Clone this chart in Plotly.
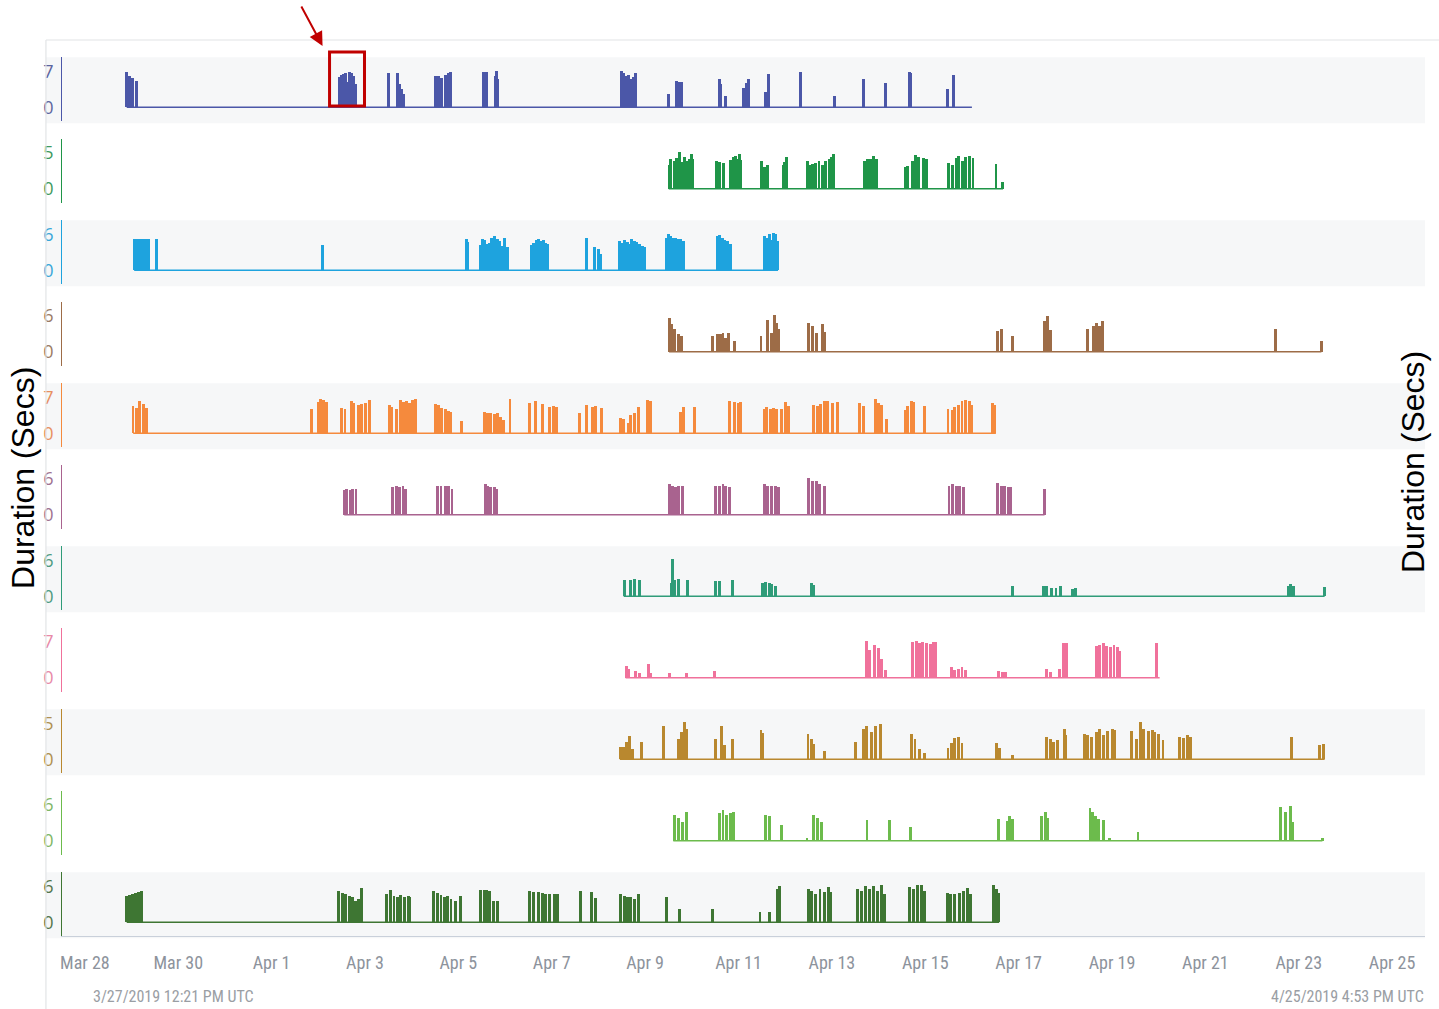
import plotly.graph_objects as go
from plotly.subplots import make_subplots
import pandas as pd

# ---------------- DATA ----------------
X_START = "2019-03-27 12:21"
X_END = "2019-04-25 16:53"
START_LABEL = "3/27/2019 12:21 PM UTC"
END_LABEL = "4/25/2019 4:53 PM UTC"
Y_TITLE = "Duration (Secs)"

tick_dates = ["2019-03-28", "2019-03-30", "2019-04-01", "2019-04-03", "2019-04-05",
              "2019-04-07", "2019-04-09", "2019-04-11", "2019-04-13", "2019-04-15",
              "2019-04-17", "2019-04-19", "2019-04-21", "2019-04-23", "2019-04-25"]
tick_labels = ["Mar 28", "Mar 30", "Apr 1", "Apr 3", "Apr 5", "Apr 7", "Apr 9", "Apr 11",
               "Apr 13", "Apr 15", "Apr 17", "Apr 19", "Apr 21", "Apr 23", "Apr 25"]

y_max_ticks = [7, 5, 6, 6, 7, 6, 6, 7, 5, 6, 6]

s1_span = ("03-28 21:30", "04-16 00:00")
s1 = [("03-28 21:30", 6.9), ("03-28 23:00", 6.1), ("03-29 00:40", 5.6), ("03-29 02:40", 5.0),
      ("04-02 10:50", 5.8), ("04-02 12:00", 6.2), ("04-02 13:00", 6.4), ("04-02 14:00", 6.7),
      ("04-02 15:00", 4.8), ("04-02 16:00", 6.9), ("04-02 17:00", 6.7), ("04-02 18:00", 6.0),
      ("04-02 19:00", 4.5),
      ("04-03 12:20", 6.6), ("04-03 17:00", 6.6), ("04-03 18:00", 4.5), ("04-03 18:40", 3.5),
      ("04-03 19:50", 2.5),
      ("04-04 12:10", 6.1), ("04-04 13:40", 6.1), ("04-04 15:20", 5.6), ("04-04 17:20", 6.2),
      ("04-04 18:50", 6.7), ("04-04 19:50", 6.9),
      ("04-05 12:50", 6.8), ("04-05 13:50", 6.8), ("04-05 14:50", 6.8), ("04-05 19:00", 6.0),
      ("04-05 19:40", 7.0), ("04-05 20:30", 5.5),
      ("04-08 12:00", 7.0), ("04-08 13:10", 6.6), ("04-08 14:20", 6.1), ("04-08 15:40", 6.2),
      ("04-08 17:10", 5.4), ("04-08 18:10", 5.9), ("04-08 19:20", 6.6),
      ("04-09 12:10", 2.6), ("04-09 16:20", 5.0), ("04-09 17:20", 4.9), ("04-09 18:50", 4.9),
      ("04-10 14:30", 5.4), ("04-10 15:00", 4.5), ("04-10 17:40", 2.1),
      ("04-11 02:30", 3.7), ("04-11 03:50", 2.5), ("04-11 04:20", 4.7), ("04-11 05:10", 5.4),
      ("04-11 14:10", 3.0), ("04-11 15:30", 6.4),
      ("04-12 08:10", 6.9), ("04-13 01:40", 2.2), ("04-13 16:10", 5.5), ("04-14 03:50", 4.7),
      ("04-14 16:00", 6.9), ("04-14 16:40", 6.6), ("04-15 11:40", 3.5), ("04-15 14:30", 6.3)]

s2_span = ("04-09 12:10", "04-16 16:00")
s2 = [("04-09 12:30", 3.4), ("04-09 13:20", 4.1), ("04-09 15:00", 3.9), ("04-09 16:20", 4.3),
      ("04-09 17:40", 5.1), ("04-09 18:50", 3.8), ("04-09 20:10", 4.5), ("04-09 21:40", 3.9),
      ("04-09 22:40", 4.2), ("04-10 00:00", 4.8), ("04-10 00:40", 4.1),
      ("04-10 12:50", 3.9), ("04-10 14:10", 3.8), ("04-10 16:20", 3.6), ("04-10 19:50", 4.0),
      ("04-10 21:20", 4.4), ("04-10 22:40", 4.6), ("04-10 23:50", 4.1), ("04-11 00:50", 4.8),
      ("04-11 01:20", 4.0),
      ("04-11 11:50", 3.9), ("04-11 13:20", 3.0), ("04-11 15:00", 3.4),
      ("04-11 23:20", 3.3), ("04-12 00:00", 3.7), ("04-12 00:50", 4.5),
      ("04-12 11:30", 3.9), ("04-12 12:40", 3.3), ("04-12 14:10", 3.5), ("04-12 15:50", 3.6),
      ("04-12 17:30", 3.9), ("04-12 19:10", 3.3), ("04-12 20:50", 3.9), ("04-12 22:40", 4.1),
      ("04-12 23:50", 4.4), ("04-13 00:50", 4.8),
      ("04-13 16:50", 3.9), ("04-13 18:20", 4.1), ("04-13 20:00", 4.2), ("04-13 21:20", 4.6),
      ("04-13 23:10", 4.1),
      ("04-14 13:50", 3.0), ("04-14 15:10", 3.2), ("04-14 17:20", 3.9), ("04-14 19:10", 4.7),
      ("04-14 20:50", 4.4), ("04-14 23:10", 4.3), ("04-15 00:50", 4.2),
      ("04-15 12:10", 3.6), ("04-15 14:00", 3.4), ("04-15 16:10", 4.3), ("04-15 17:20", 4.6),
      ("04-15 19:10", 3.9), ("04-15 20:50", 4.4), ("04-15 22:40", 4.6), ("04-16 00:40", 4.3),
      ("04-16 12:30", 3.5), ("04-16 16:00", 1.0)]

s3_span = ("03-29 01:20", "04-11 20:20")
s3 = [("03-29 01:30", 5.1), ("03-29 02:20", 5.0), ("03-29 03:10", 5.2), ("03-29 04:10", 5.2),
      ("03-29 04:50", 5.0), ("03-29 05:50", 5.2), ("03-29 06:40", 5.1), ("03-29 07:50", 5.2),
      ("03-29 08:40", 5.2), ("03-29 12:50", 5.2),
      ("04-02 02:30", 4.1),
      ("04-05 04:10", 5.1), ("04-05 05:00", 4.6),
      ("04-05 11:20", 4.1), ("04-05 12:40", 5.2), ("04-05 13:30", 5.0), ("04-05 14:50", 4.3),
      ("04-05 16:10", 4.5), ("04-05 17:00", 5.3), ("04-05 18:40", 5.7), ("04-05 20:10", 5.2),
      ("04-05 21:10", 4.8), ("04-05 22:10", 4.0), ("04-05 23:50", 5.3), ("04-06 01:30", 3.9),
      ("04-06 13:30", 4.2), ("04-06 14:50", 4.5), ("04-06 16:10", 5.0), ("04-06 17:20", 5.1),
      ("04-06 18:40", 4.9), ("04-06 20:00", 5.0), ("04-06 21:10", 4.5), ("04-06 22:10", 4.3),
      ("04-07 18:10", 5.4), ("04-07 22:00", 3.9), ("04-08 00:00", 3.5), ("04-08 01:00", 2.7),
      ("04-08 10:50", 4.8), ("04-08 12:00", 4.5), ("04-08 13:20", 5.0), ("04-08 14:50", 4.6),
      ("04-08 15:50", 4.4), ("04-08 17:20", 5.1), ("04-08 18:30", 4.9), ("04-08 19:50", 4.6),
      ("04-08 21:20", 4.4), ("04-08 22:50", 4.0), ("04-09 00:00", 3.8),
      ("04-09 10:50", 5.4), ("04-09 12:10", 6.0), ("04-09 13:20", 5.7), ("04-09 14:40", 5.4),
      ("04-09 15:50", 5.3), ("04-09 17:20", 5.1), ("04-09 18:30", 5.1), ("04-09 19:50", 4.9),
      ("04-10 13:20", 5.7), ("04-10 14:30", 5.8), ("04-10 15:50", 5.3), ("04-10 17:10", 5.0),
      ("04-10 18:20", 4.8), ("04-10 19:50", 4.4),
      ("04-11 13:40", 5.7), ("04-11 14:40", 5.4), ("04-11 15:50", 6.0), ("04-11 17:00", 5.0),
      ("04-11 18:10", 6.1), ("04-11 19:20", 6.0), ("04-11 20:10", 4.8)]

s4_span = ("04-09 12:20", "04-23 11:40")
s4 = [("04-09 12:40", 5.6), ("04-09 13:50", 4.6), ("04-09 15:20", 3.9), ("04-09 17:10", 3.0),
      ("04-09 18:50", 2.7),
      ("04-10 10:50", 2.7), ("04-10 13:10", 3.0), ("04-10 14:50", 3.0), ("04-10 16:10", 3.2),
      ("04-10 17:40", 2.4), ("04-10 18:50", 3.2), ("04-10 21:50", 1.8),
      ("04-11 11:40", 2.7), ("04-11 15:10", 5.4), ("04-11 17:00", 3.2), ("04-11 18:40", 6.1),
      ("04-11 19:50", 4.9), ("04-11 20:50", 3.8),
      ("04-12 12:20", 4.9), ("04-12 14:10", 4.4), ("04-12 16:00", 3.2), ("04-12 19:10", 4.7),
      ("04-12 20:20", 3.4),
      ("04-16 13:10", 3.5), ("04-16 15:10", 3.9), ("04-16 21:10", 2.7),
      ("04-17 13:20", 5.2), ("04-17 15:10", 6.0), ("04-17 16:20", 3.6),
      ("04-18 11:40", 3.9), ("04-18 14:50", 4.4), ("04-18 16:00", 4.8), ("04-18 17:40", 4.4),
      ("04-18 19:10", 5.1),
      ("04-22 12:20", 3.9), ("04-23 11:40", 1.8)]

s5_span = ("03-29 00:50", "04-16 12:20")
s5 = [("03-29 00:50", 5.2), ("03-29 02:30", 4.9), ("03-29 04:20", 6.2), ("03-29 06:10", 5.6),
      ("03-29 07:50", 4.9),
      ("04-01 20:40", 4.6), ("04-02 00:00", 6.0), ("04-02 01:10", 6.7), ("04-02 02:40", 6.4),
      ("04-02 04:10", 6.0),
      ("04-02 12:10", 4.9), ("04-02 13:50", 4.6), ("04-02 17:10", 6.2), ("04-02 18:20", 5.8),
      ("04-02 20:40", 5.4), ("04-02 22:30", 5.6), ("04-03 00:10", 5.8), ("04-03 02:20", 6.5),
      ("04-03 12:40", 5.4), ("04-03 13:50", 5.0), ("04-03 16:10", 4.6), ("04-03 18:20", 6.5),
      ("04-03 20:00", 6.0), ("04-03 21:20", 6.2), ("04-03 23:00", 5.8), ("04-04 00:40", 6.5),
      ("04-04 02:00", 6.7),
      ("04-04 12:10", 5.7), ("04-04 13:50", 5.5), ("04-04 15:40", 4.9), ("04-04 17:20", 4.6),
      ("04-04 18:50", 4.3), ("04-04 20:20", 4.0), ("04-05 01:50", 2.3),
      ("04-05 13:20", 4.0), ("04-05 15:10", 3.9), ("04-05 16:50", 3.8), ("04-05 18:40", 3.6),
      ("04-05 20:10", 3.8), ("04-05 22:00", 3.2), ("04-05 23:10", 2.5), ("04-06 02:40", 6.7),
      ("04-06 12:50", 5.9), ("04-06 15:50", 6.2), ("04-06 19:10", 5.6), ("04-06 23:10", 5.0),
      ("04-07 01:00", 5.2), ("04-07 02:40", 5.1),
      ("04-07 14:10", 3.8), ("04-07 18:00", 5.4), ("04-07 20:50", 5.1), ("04-07 22:40", 5.2),
      ("04-08 01:40", 4.8),
      ("04-08 11:20", 2.9), ("04-08 13:00", 2.8), ("04-08 15:20", 2.0), ("04-08 16:50", 3.5),
      ("04-08 18:50", 3.8), ("04-08 20:40", 5.0), ("04-09 01:10", 6.5), ("04-09 02:50", 6.2),
      ("04-09 18:10", 4.0), ("04-09 20:00", 5.0), ("04-10 01:40", 5.0),
      ("04-10 19:40", 6.3), ("04-10 22:10", 6.0), ("04-11 00:10", 5.9), ("04-11 01:20", 6.1),
      ("04-11 13:20", 4.7), ("04-11 14:40", 5.0), ("04-11 16:30", 4.7), ("04-11 18:10", 4.8),
      ("04-11 19:50", 4.6), ("04-11 22:20", 4.7), ("04-12 00:20", 6.0), ("04-12 01:50", 5.3),
      ("04-12 14:50", 5.4), ("04-12 16:40", 5.2), ("04-12 18:20", 5.7), ("04-12 20:10", 6.2),
      ("04-12 21:40", 6.3), ("04-13 00:30", 5.8), ("04-13 02:50", 6.0),
      ("04-13 14:30", 5.8), ("04-13 16:10", 5.2), ("04-13 22:20", 6.6), ("04-14 00:10", 5.8),
      ("04-14 01:50", 5.5), ("04-14 04:20", 2.7),
      ("04-14 14:00", 4.5), ("04-14 15:10", 5.2), ("04-14 17:10", 6.3), ("04-14 18:20", 6.0),
      ("04-14 23:40", 5.2),
      ("04-15 11:50", 4.7), ("04-15 14:10", 4.4), ("04-15 15:20", 5.0), ("04-15 17:20", 5.4),
      ("04-15 19:00", 6.2), ("04-15 20:40", 6.4), ("04-15 22:40", 6.3), ("04-15 23:50", 5.4),
      ("04-16 10:50", 5.8), ("04-16 11:50", 5.4)]

s6_span = ("04-02 13:20", "04-17 13:20")
s6 = [("04-02 13:20", 4.2), ("04-02 14:50", 4.3), ("04-02 16:30", 4.2), ("04-02 17:50", 4.3),
      ("04-02 19:30", 4.4),
      ("04-03 14:20", 4.6), ("04-03 16:10", 4.8), ("04-03 18:00", 4.6), ("04-03 19:40", 4.8),
      ("04-03 21:00", 4.4),
      ("04-04 13:10", 4.8), ("04-04 15:10", 4.8), ("04-04 17:20", 4.8), ("04-04 18:50", 4.8),
      ("04-04 20:50", 4.3),
      ("04-05 13:50", 5.1), ("04-05 15:10", 4.9), ("04-05 16:50", 4.7), ("04-05 18:40", 4.6),
      ("04-05 19:40", 4.3),
      ("04-09 12:40", 5.1), ("04-09 14:10", 4.9), ("04-09 15:50", 4.6), ("04-09 17:10", 4.8),
      ("04-09 19:30", 4.9),
      ("04-10 12:30", 4.8), ("04-10 14:20", 4.9), ("04-10 16:10", 5.1), ("04-10 17:40", 4.8),
      ("04-10 19:20", 4.6),
      ("04-11 13:20", 5.1), ("04-11 15:10", 4.9), ("04-11 17:00", 4.8), ("04-11 19:00", 4.9),
      ("04-11 20:40", 4.6),
      ("04-12 12:20", 6.1), ("04-12 14:10", 5.7), ("04-12 16:00", 5.6), ("04-12 17:40", 5.2),
      ("04-12 20:10", 4.9),
      ("04-15 12:20", 4.9), ("04-15 14:10", 5.1), ("04-15 16:10", 4.8), ("04-15 17:50", 4.9),
      ("04-15 19:40", 4.6),
      ("04-16 13:10", 5.3), ("04-16 15:10", 4.9), ("04-16 16:50", 4.8), ("04-16 18:40", 4.7),
      ("04-16 19:50", 4.6),
      ("04-17 13:20", 4.4)]

s7_span = ("04-08 13:00", "04-23 13:20")
s7 = [("04-08 13:30", 2.7), ("04-08 16:50", 2.6), ("04-08 18:50", 2.8), ("04-08 21:00", 2.7),
      ("04-09 13:40", 2.1), ("04-09 14:20", 6.1), ("04-09 15:20", 2.7), ("04-09 17:10", 2.8),
      ("04-09 21:50", 2.7),
      ("04-10 12:30", 2.5), ("04-10 14:20", 2.5), ("04-10 21:10", 2.6),
      ("04-11 12:40", 2.1), ("04-11 14:10", 2.3), ("04-11 15:50", 2.1), ("04-11 17:00", 2.0),
      ("04-11 19:00", 1.7),
      ("04-12 13:40", 2.1), ("04-12 14:50", 1.9),
      ("04-16 20:50", 1.7),
      ("04-17 12:50", 1.7), ("04-17 14:40", 1.6), ("04-17 17:00", 1.4), ("04-17 19:20", 1.3),
      ("04-17 21:50", 1.6), ("04-18 03:50", 1.1), ("04-18 05:10", 1.3),
      ("04-22 18:40", 1.7), ("04-22 19:40", 2.0), ("04-22 21:40", 1.7),
      ("04-23 13:20", 1.5)]

s8_span = ("04-08 14:00", "04-20 00:30")
s8 = [("04-08 14:30", 2.3), ("04-08 15:50", 1.7), ("04-08 19:10", 1.3), ("04-08 21:00", 1.0),
      ("04-09 01:40", 2.7), ("04-09 02:50", 1.0), ("04-09 12:40", 1.0), ("04-09 21:10", 0.9),
      ("04-10 12:00", 1.3),
      ("04-13 17:50", 7.1), ("04-13 19:20", 5.5), ("04-13 21:50", 6.4), ("04-14 00:10", 5.9),
      ("04-14 01:50", 3.6), ("04-14 03:40", 1.5),
      ("04-14 17:40", 7.0), ("04-14 19:30", 7.1), ("04-14 21:10", 6.9), ("04-14 22:50", 7.0),
      ("04-15 00:50", 6.8), ("04-15 02:50", 6.6), ("04-15 04:30", 7.0), ("04-15 05:40", 7.0),
      ("04-15 13:30", 2.1), ("04-15 15:20", 1.5), ("04-15 17:20", 1.8), ("04-15 19:00", 2.1),
      ("04-15 20:40", 1.5),
      ("04-16 13:40", 1.3), ("04-16 15:40", 1.2), ("04-16 17:30", 1.2),
      ("04-17 14:40", 1.8), ("04-17 16:20", 1.2), ("04-17 21:10", 1.8), ("04-17 23:00", 6.9),
      ("04-18 00:50", 6.9),
      ("04-18 16:00", 6.3), ("04-18 17:50", 6.5), ("04-18 19:40", 6.9), ("04-18 21:20", 6.3),
      ("04-18 23:10", 6.1), ("04-19 01:10", 6.5), ("04-19 03:10", 6.1), ("04-19 04:10", 5.3),
      ("04-19 23:00", 6.9)]

s9_span = ("04-08 11:00", "04-23 13:20")
s9 = [("04-08 11:20", 1.6), ("04-08 13:00", 1.7), ("04-08 14:40", 2.3), ("04-08 16:00", 3.2),
      ("04-08 17:40", 1.4), ("04-08 22:10", 2.3),
      ("04-09 09:40", 4.6), ("04-09 17:10", 2.8), ("04-09 18:50", 3.7), ("04-09 20:10", 5.2),
      ("04-09 21:10", 4.2),
      ("04-10 12:30", 2.8), ("04-10 15:20", 4.6), ("04-10 17:00", 1.9), ("04-10 21:10", 2.8),
      ("04-11 11:40", 4.0), ("04-11 12:40", 3.6),
      ("04-12 11:50", 3.5), ("04-12 13:40", 2.8), ("04-12 14:50", 2.1), ("04-12 20:10", 1.1),
      ("04-13 12:10", 2.4), ("04-13 16:10", 4.2), ("04-13 17:50", 4.6), ("04-13 20:20", 3.7),
      ("04-13 22:40", 4.6), ("04-14 01:10", 4.9),
      ("04-14 17:10", 3.5), ("04-14 18:50", 2.8), ("04-14 21:10", 1.4), ("04-14 23:40", 0.8),
      ("04-15 11:50", 1.5), ("04-15 13:30", 2.2), ("04-15 15:20", 2.9), ("04-15 17:20", 3.1),
      ("04-15 19:00", 2.2),
      ("04-16 12:40", 2.2), ("04-16 14:20", 1.5), ("04-16 20:50", 0.5),
      ("04-17 14:40", 3.1), ("04-17 16:20", 2.8), ("04-17 18:10", 2.4), ("04-17 20:10", 2.7),
      ("04-17 23:30", 4.2), ("04-18 00:10", 3.3),
      ("04-18 09:50", 3.5), ("04-18 11:40", 3.3), ("04-18 13:30", 3.0), ("04-18 16:00", 3.7),
      ("04-18 17:50", 4.2), ("04-18 19:40", 3.3), ("04-18 22:00", 3.9), ("04-19 00:20", 4.2),
      ("04-19 01:40", 4.0),
      ("04-19 10:10", 3.9), ("04-19 12:30", 2.8), ("04-19 14:50", 5.1), ("04-19 16:10", 4.2),
      ("04-19 19:00", 3.9), ("04-19 20:50", 4.0), ("04-19 22:10", 3.8), ("04-19 23:50", 3.5),
      ("04-20 02:20", 2.6),
      ("04-20 11:00", 3.1), ("04-20 12:40", 2.9), ("04-20 15:10", 3.4), ("04-20 16:20", 3.0),
      ("04-22 20:20", 3.0),
      ("04-23 10:50", 1.9), ("04-23 12:40", 2.1)]

s10_span = ("04-09 14:30", "04-23 12:10")
s10 = [("04-09 15:20", 4.4), ("04-09 17:10", 3.9), ("04-09 19:10", 3.1), ("04-09 21:20", 4.8),
       ("04-10 14:20", 4.7), ("04-10 16:10", 5.1), ("04-10 18:00", 4.4), ("04-10 20:00", 4.7),
       ("04-10 21:40", 4.8),
       ("04-11 14:00", 4.4), ("04-11 15:50", 4.2), ("04-11 22:10", 2.6),
       ("04-12 11:20", 0.5), ("04-12 14:40", 4.4), ("04-12 16:40", 3.9), ("04-12 18:40", 3.1),
       ("04-13 18:10", 3.5), ("04-14 05:40", 3.5), ("04-14 16:40", 2.4),
       ("04-16 14:00", 3.6), ("04-16 18:10", 3.4), ("04-16 19:30", 4.2), ("04-16 20:50", 3.6),
       ("04-17 12:00", 4.2), ("04-17 13:50", 4.8), ("04-17 14:50", 3.9),
       ("04-18 12:50", 5.5), ("04-18 14:10", 4.9), ("04-18 15:30", 4.2), ("04-18 17:20", 3.7),
       ("04-18 19:40", 3.5), ("04-18 22:50", 0.5),
       ("04-19 13:30", 1.5),
       ("04-22 14:50", 5.6), ("04-22 17:30", 4.9), ("04-22 19:40", 5.9), ("04-22 21:10", 3.1),
       ("04-23 12:10", 0.5)]

s11_span = ("03-28 21:30", "04-16 14:00")
s11 = [("03-28 21:30", 4.3), ("03-28 22:50", 4.5), ("03-29 00:40", 4.6), ("03-29 02:10", 4.9),
       ("03-29 03:40", 5.0), ("03-29 05:20", 5.1),
       ("04-02 10:40", 5.1), ("04-02 12:20", 4.9), ("04-02 14:10", 4.6), ("04-02 16:10", 4.3),
       ("04-02 17:40", 4.1), ("04-02 19:20", 3.5), ("04-02 20:50", 3.8), ("04-02 22:20", 5.7),
       ("04-03 11:20", 4.6), ("04-03 13:20", 5.4), ("04-03 15:00", 4.3), ("04-03 16:40", 4.1),
       ("04-03 18:30", 4.5), ("04-03 20:20", 4.2), ("04-03 22:20", 4.3), ("04-03 23:10", 4.1),
       ("04-04 11:20", 5.1), ("04-04 13:20", 4.9), ("04-04 15:10", 4.5), ("04-04 16:50", 4.2),
       ("04-04 18:30", 4.3), ("04-04 20:20", 3.9), ("04-04 22:40", 3.5), ("04-05 01:10", 4.3),
       ("04-05 11:40", 5.4), ("04-05 13:20", 5.4), ("04-05 14:50", 5.4), ("04-05 16:20", 5.2),
       ("04-05 18:10", 3.5), ("04-05 20:20", 3.5),
       ("04-06 12:50", 5.1), ("04-06 14:50", 5.0), ("04-06 17:10", 5.0), ("04-06 19:10", 4.9),
       ("04-06 20:50", 4.6), ("04-06 23:10", 4.6), ("04-07 01:20", 4.7), ("04-07 03:10", 4.6),
       ("04-07 14:50", 5.2), ("04-07 20:20", 5.0), ("04-07 22:40", 4.0),
       ("04-08 11:40", 4.6), ("04-08 13:30", 4.3), ("04-08 15:10", 4.2), ("04-08 16:50", 4.1),
       ("04-08 18:40", 3.8), ("04-08 20:40", 4.6),
       ("04-09 11:10", 4.2), ("04-09 17:50", 2.1), ("04-10 10:40", 2.2),
       ("04-11 11:10", 1.7), ("04-11 15:50", 1.6), ("04-11 20:00", 5.5), ("04-11 21:20", 6.0),
       ("04-12 12:00", 5.5), ("04-12 13:50", 5.2), ("04-12 15:50", 4.7), ("04-12 18:00", 5.5),
       ("04-12 20:10", 5.0), ("04-12 22:10", 5.8), ("04-12 23:30", 5.0),
       ("04-13 13:10", 5.5), ("04-13 15:20", 5.2), ("04-13 17:20", 6.0), ("04-13 19:20", 5.5),
       ("04-13 21:30", 6.0), ("04-13 23:40", 5.2), ("04-14 01:40", 6.1), ("04-14 03:00", 4.7),
       ("04-14 15:50", 5.8), ("04-14 18:10", 5.5), ("04-14 20:00", 6.1), ("04-14 22:10", 6.1),
       ("04-14 23:40", 5.2),
       ("04-15 11:20", 4.9), ("04-15 13:20", 4.6), ("04-15 15:20", 4.6), ("04-15 17:30", 4.9),
       ("04-15 19:40", 5.2), ("04-15 21:40", 5.6), ("04-15 23:30", 4.6),
       ("04-16 11:20", 6.2), ("04-16 12:40", 5.5), ("04-16 14:00", 4.9)]

all_series = [s1, s2, s3, s4, s5, s6, s7, s8, s9, s10, s11]
all_spans = [s1_span, s2_span, s3_span, s4_span, s5_span, s6_span, s7_span, s8_span,
             s9_span, s10_span, s11_span]

# ---------------- STYLE ----------------
colors = ["#4b57a8", "#1f9548", "#1ea3de", "#9d6c47", "#f58a3d", "#a9638f",
          "#2f9c79", "#f0719b", "#b9882f", "#6cbb4c", "#3e7633"]
label_colors = ["#5e669e", "#3f9a5c", "#3aa6d8", "#9b7b63", "#e89060", "#a07290",
                "#4e9b80", "#e88aa8", "#b0904e", "#7fb765", "#55764a"]

W, H = 1439, 1009
N = len(all_series)
PLOT_L, PLOT_R = 60.3, 1424.9
BASE0, PITCH, UNIT_PX, PAD = 107.3, 81.5, 36.0, 14.0
COND = "Liberation Sans Narrow, Roboto Condensed, Arial Narrow, Liberation Sans, sans-serif"
TICKF = "Open Sans, Noto Sans, sans-serif"


def ts(s):
    return pd.Timestamp("2019-" + s)


def py(p):
    return 1 - p / H


fig = make_subplots(rows=N, cols=1, shared_xaxes=True, vertical_spacing=0.01)

shapes = []
for i in range(N):
    pts = all_series[i]
    t = [ts(a) for a, _ in pts]
    v = [b for _, b in pts]
    span = all_spans[i]
    fig.add_trace(go.Bar(x=t, y=v, width=1.5 * 3600 * 1000, marker=dict(color=colors[i], line=dict(width=0)),
                         hoverinfo="skip", showlegend=False), row=i + 1, col=1)
    fig.add_trace(go.Scatter(x=[ts(span[0]), ts(span[1])], y=[0, 0], mode="lines",
                             line=dict(color=colors[i], width=1.6), hoverinfo="skip", showlegend=False),
                  row=i + 1, col=1)
    base = BASE0 + PITCH * i
    top = base - UNIT_PX
    ymax = y_max_ticks[i]
    unit = UNIT_PX / ymax
    yname = "yaxis" if i == 0 else f"yaxis{i + 1}"
    xname = "xaxis" if i == 0 else f"xaxis{i + 1}"
    fig.layout[yname].update(
        domain=[py(base + PAD), py(top - PAD)],
        range=[-PAD / unit, ymax + PAD / unit],
        tickvals=[0, ymax], ticktext=[str(0), str(ymax)],
        showline=True, linecolor=colors[i], linewidth=1.3,
        showgrid=False, zeroline=False, ticks="", ticklabelstandoff=4,
        tickfont=dict(family=TICKF, size=18, color=label_colors[i]), fixedrange=True)
    last = (i == N - 1)
    fig.layout[xname].update(
        domain=[PLOT_L / W, PLOT_R / W], type="date",
        range=[pd.Timestamp(X_START), pd.Timestamp(X_END)],
        showgrid=False, zeroline=False, showline=last, linecolor="#c9d0da", linewidth=1.3,
        tickvals=[pd.Timestamp(d) for d in tick_dates], ticktext=tick_labels,
        showticklabels=last, ticks="", ticklabelstandoff=10,
        tickfont=dict(family=COND, size=18, color="#8d939c"), fixedrange=True)
    if i % 2 == 0:
        shapes.append(dict(type="rect", xref="paper", yref="paper", layer="below",
                           x0=44 / W, x1=1425 / W, y0=py(base + 16), y1=py(base - 50),
                           fillcolor="#f6f7f8", line=dict(width=0)))

# frame lines
shapes.append(dict(type="line", xref="paper", yref="paper", x0=44 / W, x1=1.0, y0=py(40), y1=py(40),
                   line=dict(color="#e2e4e6", width=1.2)))
shapes.append(dict(type="line", xref="paper", yref="paper", x0=44 / W, x1=44 / W, y0=py(40), y1=0,
                   line=dict(color="#e2e4e6", width=1.2)))
# red highlight box
shapes.append(dict(type="rect", xref="paper", yref="paper", x0=328 / W, x1=363 / W, y0=py(106), y1=py(52),
                   line=dict(color="#c00000", width=3), fillcolor="rgba(0,0,0,0)"))

annotations = [
    dict(xref="paper", yref="paper", x=321 / W, y=py(46), ax=-22, ay=-41, text="", showarrow=True,
         arrowhead=2, arrowsize=1.4, arrowwidth=2, arrowcolor="#c00000"),
    dict(xref="paper", yref="paper", x=21 / W, y=py(478), text=Y_TITLE, textangle=-90, showarrow=False,
         xanchor="center", yanchor="middle",
         font=dict(family="Liberation Sans, Arial, sans-serif", size=32, color="#000000")),
    dict(xref="paper", yref="paper", x=1413 / W, y=py(462), text=Y_TITLE, textangle=-90, showarrow=False,
         xanchor="center", yanchor="middle",
         font=dict(family="Liberation Sans, Arial, sans-serif", size=32, color="#000000")),
    dict(xref="paper", yref="paper", x=172 / W, y=py(996), text=START_LABEL, showarrow=False,
         xanchor="center", yanchor="middle", font=dict(family=COND, size=16, color="#9a9ea4")),
    dict(xref="paper", yref="paper", x=1426 / W, y=py(996), text=END_LABEL, showarrow=False,
         xanchor="right", yanchor="middle", font=dict(family=COND, size=16, color="#9a9ea4")),
]

fig.update_layout(width=W, height=H, margin=dict(l=0, r=0, t=0, b=0),
                  paper_bgcolor="#ffffff", plot_bgcolor="rgba(0,0,0,0)",
                  shapes=shapes, annotations=annotations, showlegend=False,
                  hovermode=False, bargap=0)

fig.write_html("out.html", config={"displayModeBar": False},
               post_script="document.body.style.margin='0';document.body.style.overflow='hidden';")
